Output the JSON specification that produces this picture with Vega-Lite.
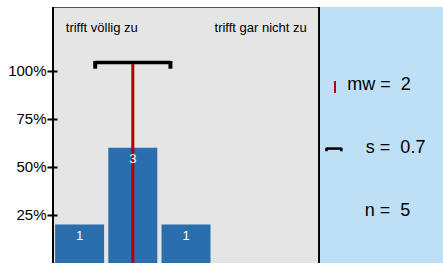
{
  "$schema": "https://vega.github.io/schema/vega-lite/v6.json",
  "width": 390,
  "height": 256,
  "autosize": {"type": "none"},
  "padding": {"left": 53, "top": 7, "right": 0, "bottom": 0},
  "background": "white",
  "config": {
    "font": "Liberation Sans",
    "view": {"fill": "#e5e5e5", "stroke": "#555555", "strokeWidth": 1}
  },
  "data": {"values": [{}]},
  "datasets": {
    "bars": [
      {"cat": 1, "pct": 0.2, "n": 1},
      {"cat": 2, "pct": 0.6, "n": 3},
      {"cat": 3, "pct": 0.2, "n": 1}
    ],
    "stats": [
      {"mean": 2, "sd": 0.707, "lo": 1.293, "hi": 2.707, "n": 5}
    ]
  },
  "encoding": {
    "x": {"type": "quantitative", "scale": {"domain": [0.5, 7.83], "nice": false, "zero": false, "padding": 0}, "axis": null},
    "y": {"type": "quantitative", "scale": {"domain": [0, 1.3333], "nice": false, "padding": 0}}
  },
  "layer": [
    {
      "mark": {"type": "rect", "fill": "#bde0f6"},
      "encoding": {
        "x": {"datum": 5.5, "type": "quantitative"},
        "x2": {"datum": 7.83},
        "y": {"datum": 0, "type": "quantitative", "axis": {"values": [0.25, 0.5, 0.75, 1], "format": "%", "offset": -4, "domain": false, "tickSize": 10, "tickWidth": 2, "tickColor": "black", "labelFontSize": 15, "labelColor": "black", "labelPadding": 1, "grid": false, "title": null}},
        "y2": {"datum": 1.3333}
      }
    },
    {
      "data": {"name": "bars"},
      "mark": {"type": "bar", "size": 49, "color": "#2a6ead"},
      "encoding": {
        "x": {"field": "cat", "type": "quantitative"},
        "y": {"field": "pct", "type": "quantitative"}
      }
    },
    {
      "data": {"name": "stats"},
      "mark": {"type": "rule", "color": "#b30000", "strokeWidth": 3},
      "encoding": {
        "x": {"field": "mean", "type": "quantitative"},
        "y": {"datum": 0, "type": "quantitative"},
        "y2": {"datum": 1.036}
      }
    },
    {
      "data": {"name": "bars"},
      "mark": {"type": "text", "color": "white", "fontSize": 13, "dy": 11, "baseline": "middle"},
      "encoding": {
        "x": {"field": "cat", "type": "quantitative"},
        "y": {"field": "pct", "type": "quantitative"},
        "text": {"field": "n"}
      }
    },
    {
      "data": {"name": "stats"},
      "mark": {"type": "rule", "color": "black", "strokeWidth": 3.5},
      "encoding": {
        "x": {"field": "lo", "type": "quantitative"},
        "x2": {"field": "hi"},
        "y": {"datum": 1.044, "type": "quantitative"}
      }
    },
    {
      "data": {"name": "stats"},
      "mark": {"type": "rule", "color": "black", "strokeWidth": 4},
      "encoding": {
        "x": {"field": "lo", "type": "quantitative"},
        "y": {"datum": 1.052, "type": "quantitative"},
        "y2": {"datum": 1.012}
      }
    },
    {
      "data": {"name": "stats"},
      "mark": {"type": "rule", "color": "black", "strokeWidth": 4},
      "encoding": {
        "x": {"field": "hi", "type": "quantitative"},
        "y": {"datum": 1.052, "type": "quantitative"},
        "y2": {"datum": 1.012}
      }
    },
    {
      "mark": {"type": "rule", "color": "black", "strokeWidth": 2},
      "encoding": {
        "x": {"datum": 5.5, "type": "quantitative"},
        "y": {"datum": 0, "type": "quantitative"},
        "y2": {"datum": 1.3333}
      }
    },
    {
      "mark": {"type": "rule", "color": "black", "strokeWidth": 2},
      "encoding": {
        "x": {"datum": 0.5, "type": "quantitative"},
        "y": {"datum": 0, "type": "quantitative"},
        "y2": {"datum": 1.3333}
      }
    },
    {
      "mark": {"type": "text", "text": "trifft völlig zu", "fontSize": 13, "align": "left", "baseline": "middle", "color": "black"},
      "encoding": {
        "x": {"datum": 0.74, "type": "quantitative"},
        "y": {"datum": 1.224, "type": "quantitative"}
      }
    },
    {
      "mark": {"type": "text", "text": "trifft gar nicht zu", "fontSize": 13, "align": "right", "baseline": "middle", "color": "black"},
      "encoding": {
        "x": {"datum": 5.27, "type": "quantitative"},
        "y": {"datum": 1.224, "type": "quantitative"}
      }
    },
    {
      "mark": {"type": "rule", "color": "#b30000", "strokeWidth": 2},
      "encoding": {
        "x": {"datum": 5.8, "type": "quantitative"},
        "y": {"datum": 0.948, "type": "quantitative"},
        "y2": {"datum": 0.886}
      }
    },
    {
      "mark": {"type": "rule", "color": "black", "strokeWidth": 2.5},
      "encoding": {
        "x": {"datum": 5.64, "type": "quantitative"},
        "x2": {"datum": 5.92},
        "y": {"datum": 0.596, "type": "quantitative"}
      }
    },
    {
      "mark": {"type": "rule", "color": "black", "strokeWidth": 2.5},
      "encoding": {
        "x": {"datum": 5.64, "type": "quantitative"},
        "y": {"datum": 0.6, "type": "quantitative"},
        "y2": {"datum": 0.582}
      }
    },
    {
      "mark": {"type": "rule", "color": "black", "strokeWidth": 2.5},
      "encoding": {
        "x": {"datum": 5.92, "type": "quantitative"},
        "y": {"datum": 0.6, "type": "quantitative"},
        "y2": {"datum": 0.582}
      }
    },
    {
      "mark": {"type": "text", "text": "mw = \u00a02", "fontSize": 18, "align": "left", "baseline": "middle", "color": "black"},
      "encoding": {
        "x": {"datum": 6.03, "type": "quantitative"},
        "y": {"datum": 0.927, "type": "quantitative"}
      }
    },
    {
      "mark": {"type": "text", "text": "s = \u00a00.7", "fontSize": 18, "align": "left", "baseline": "middle", "color": "black"},
      "encoding": {
        "x": {"datum": 6.38, "type": "quantitative"},
        "y": {"datum": 0.6, "type": "quantitative"}
      }
    },
    {
      "mark": {"type": "text", "text": "n = \u00a05", "fontSize": 18, "align": "left", "baseline": "middle", "color": "black"},
      "encoding": {
        "x": {"datum": 6.36, "type": "quantitative"},
        "y": {"datum": 0.271, "type": "quantitative"}
      }
    }
  ]
}
